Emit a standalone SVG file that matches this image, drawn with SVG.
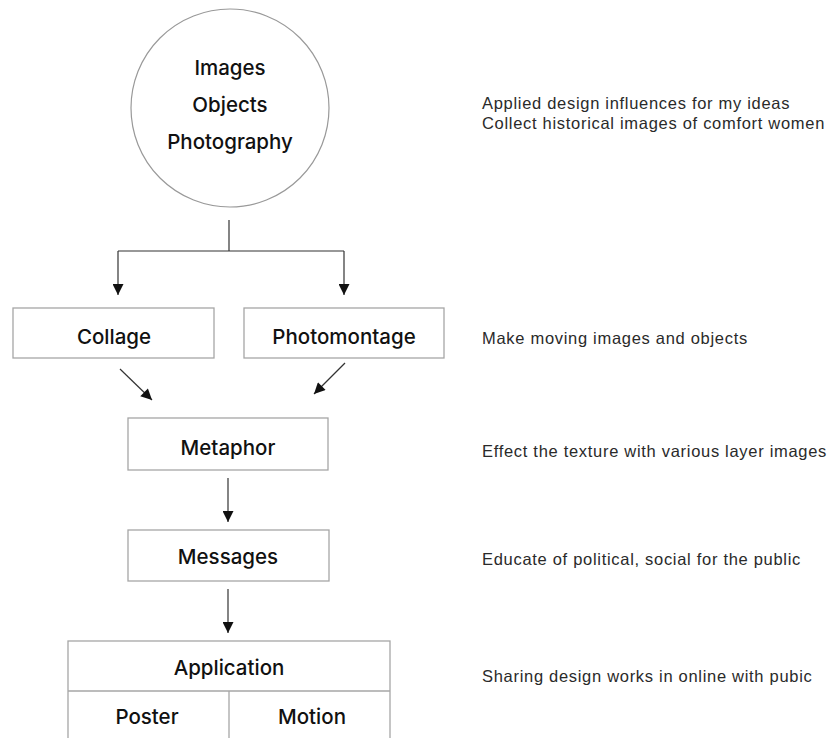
<svg xmlns="http://www.w3.org/2000/svg" width="831" height="738" viewBox="0 0 831 738">
<defs>
<marker id="ah" viewBox="0 0 10 10" refX="10" refY="5" markerWidth="12" markerHeight="11" markerUnits="userSpaceOnUse" orient="auto">
<path d="M0,0 L10,5 L0,10 z" fill="#111"/>
</marker>
<style>
.box{fill:#fff;stroke:#a6a6a6;stroke-width:1.3}
.lbl{font-family:Inter,"Liberation Sans",Arial,sans-serif;font-weight:500;font-size:20.5px;fill:#111;text-anchor:middle}
.note{font-family:"Liberation Sans",Arial,sans-serif;font-size:16.5px;letter-spacing:0.7px;fill:#2a2a2a}
.con{fill:none;stroke:#333;stroke-width:1.2}
</style>
</defs>
<rect width="831" height="738" fill="#fff"/>
<g id="connectors">
<polyline class="con" points="229,220 229,251"/>
<polyline class="con" points="118,251 344,251"/>
<line class="con" x1="118" y1="251" x2="118" y2="295" marker-end="url(#ah)"/>
<line class="con" x1="344" y1="251" x2="344" y2="295" marker-end="url(#ah)"/>
<line class="con" x1="120" y1="369" x2="152" y2="400" marker-end="url(#ah)"/>
<line class="con" x1="345" y1="363" x2="314" y2="394" marker-end="url(#ah)"/>
<line class="con" x1="228" y1="478" x2="228" y2="522" marker-end="url(#ah)"/>
<line class="con" x1="228" y1="589" x2="228" y2="633" marker-end="url(#ah)"/>
</g>
<g id="source">
<circle cx="230" cy="108" r="99" fill="#fff" stroke="#999" stroke-width="1.2"/>
<text class="lbl" x="230" y="75">Images</text>
<text class="lbl" x="230" y="112">Objects</text>
<text class="lbl" x="230" y="149">Photography</text>
</g>
<g id="collage">
<rect class="box" x="13" y="308" width="201" height="50"/>
<text class="lbl" x="114" y="344">Collage</text>
</g>
<g id="photomontage">
<rect class="box" x="244" y="308" width="200" height="50"/>
<text class="lbl" x="344" y="344">Photomontage</text>
</g>
<g id="metaphor">
<rect class="box" x="128" y="418" width="200" height="52"/>
<text class="lbl" x="228" y="455">Metaphor</text>
</g>
<g id="messages">
<rect class="box" x="128" y="530" width="201" height="51"/>
<text class="lbl" x="228" y="564">Messages</text>
</g>
<g id="application">
<rect class="box" x="68" y="641" width="322" height="110"/>
<line class="box" x1="68" y1="691" x2="390" y2="691"/>
<line class="box" x1="229" y1="691" x2="229" y2="738"/>
<text class="lbl" x="229" y="675">Application</text>
<text class="lbl" x="147" y="724">Poster</text>
<text class="lbl" x="312" y="724">Motion</text>
</g>
<g id="notes">
<text class="note" x="482" y="109">Applied design influences for my ideas</text>
<text class="note" x="482" y="129">Collect historical images of comfort women</text>
<text class="note" x="482" y="344">Make moving images and objects</text>
<text class="note" x="482" y="457">Effect the texture with various layer images</text>
<text class="note" x="482" y="565">Educate of political, social for the public</text>
<text class="note" x="482" y="682">Sharing design works in online with pubic</text>
</g>
</svg>
